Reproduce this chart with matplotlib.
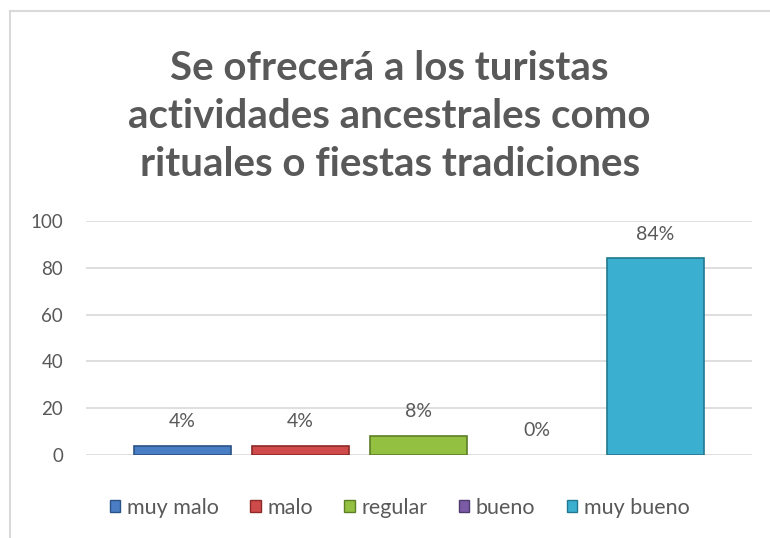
import matplotlib.pyplot as plt
from matplotlib.lines import Line2D
from matplotlib.patches import Patch

# data
categorias = ['muy malo', 'malo', 'regular', 'bueno', 'muy bueno']
valores = [4, 4, 8, 0, 84]
etiquetas = ['4%', '4%', '8%', '0%', '84%']
colores = ['#4A7EC4', '#CF4A4A', '#93C040', '#7B5BA6', '#3AAFCF']
bordes = ['#2B5286', '#8C2A28', '#5E7F26', '#4E3A6E', '#21788F']
titulo = 'Se ofrecerá a los turistas\nactividades ancestrales como\nrituales o fiestas tradiciones'

plt.rcParams['font.family'] = ['Lato', 'DejaVu Sans']
gris = '#595959'

fig = plt.figure(figsize=(7.7, 5.38), dpi=100)
ax = fig.add_axes([0.1117, 0.1543, 0.8649, 0.4349])

x = range(len(valores))
anchos_borde = [1.2 if v > 0 else 0 for v in valores]
ax.bar(x, valores, width=0.82, color=colores, edgecolor=bordes,
       linewidth=anchos_borde, zorder=3)
for i, v in enumerate(valores):
    ax.annotate(etiquetas[i], (i, v), xytext=(0, 17.5), textcoords='offset points',
                ha='center', va='center', fontsize=14, color=gris)

ax.set_ylim(0, 100)
ax.set_xlim(-0.816, 4.82)
ax.set_yticks([0, 20, 40, 60, 80, 100])
ax.set_xticks([])
ax.yaxis.grid(True, color='#D9D9D9', linewidth=1.2, zorder=0)
ax.tick_params(axis='y', length=0, pad=16.5, labelsize=13.5, labelcolor=gris)
for s in ax.spines.values():
    s.set_visible(False)

fig.text(0.506, 0.784, titulo, ha='center', va='center', fontsize=29,
         fontweight='bold', color=gris, linespacing=1.36)

handles = [Patch(facecolor=c, edgecolor=b) for c, b in zip(colores, bordes)]
fig.legend(handles, categorias, loc='center', bbox_to_anchor=(0.519, 0.056), ncol=5,
           frameon=False, fontsize=15.5, labelcolor=gris, handlelength=0.5,
           handleheight=0.5, handletextpad=0.3, columnspacing=1.45)

# chart border (left and top)
fig.add_artist(Line2D([0.013, 0.013], [0, 0.98], color='#D9D9D9', lw=1.5))
fig.add_artist(Line2D([0.013, 1.0], [0.98, 0.98], color='#D9D9D9', lw=1.5))

fig.savefig('out.png', dpi=100)
